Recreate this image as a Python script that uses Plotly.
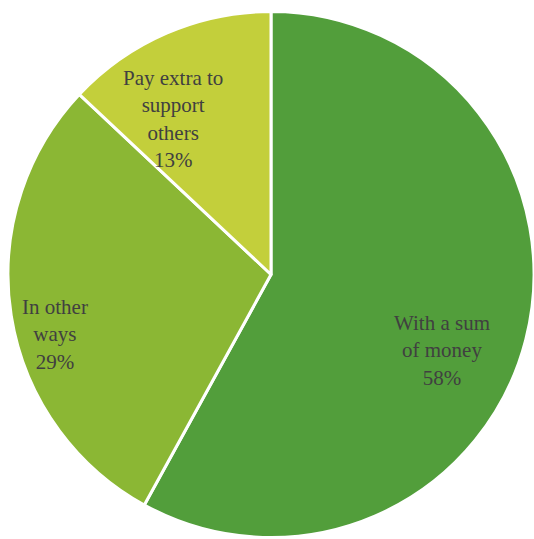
import plotly.graph_objects as go

labels = ["With a sum<br>of money", "In other<br>ways", "Pay extra to<br>support<br>others"]
values = [58, 29, 13]
colors = ["#529e3b", "#8bb734", "#c3cf3b"]

W, H = 534, 539
# label centres in pixels (layout only)
label_px = [(442, 350), (55, 334), (173, 119)]

fig = go.Figure(go.Pie(
    labels=labels,
    values=values,
    sort=False,
    direction="clockwise",
    rotation=0,
    marker=dict(colors=colors, line=dict(color="white", width=3)),
    textinfo="none",
    hoverinfo="label+percent",
    showlegend=False,
    domain=dict(x=[8 / W, 1.0], y=[0.0, 1 - 10 / H]),
))

total = sum(values)
annotations = []
for lab, v, (px, py) in zip(labels, values, label_px):
    annotations.append(dict(
        x=px / W, y=1 - py / H, xref="paper", yref="paper",
        text=f"{lab}<br>{round(100 * v / total)}%",
        showarrow=False, align="center",
        font=dict(family="'Liberation Serif', 'Times New Roman', serif", size=21, color="#404040"),
        xanchor="center", yanchor="middle",
    ))

fig.update_layout(
    width=W, height=H,
    margin=dict(l=0, r=0, t=0, b=0),
    paper_bgcolor="white",
    plot_bgcolor="white",
    annotations=annotations,
)

fig.write_html("out.html")
